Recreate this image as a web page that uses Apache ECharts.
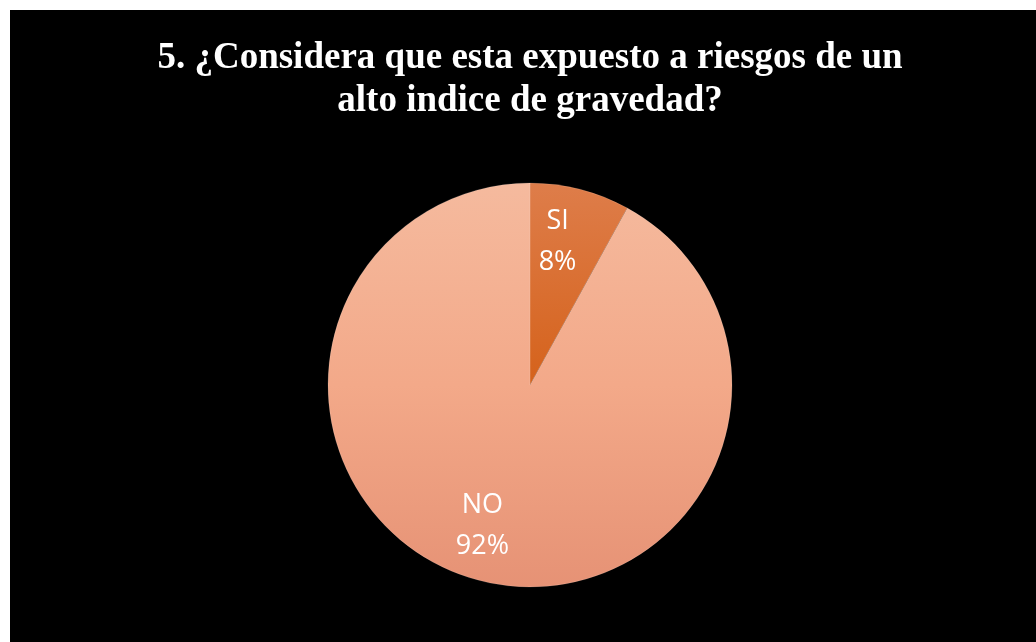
<!DOCTYPE html>
<html>
<head>
<meta charset="utf-8">
<script src="https://cdn.jsdelivr.net/npm/echarts@6/dist/echarts.min.js"></script>
<style>
  html, body { margin: 0; padding: 0; background: #fff; }
  #chart { position: absolute; left: 10px; top: 10px; width: 1026px; height: 632px; background: #000; }
</style>
</head>
<body>
<div id="chart"></div>
<script>
  // respuestas de la pregunta 5
  var categories = ['SI', 'NO'];
  var values = [8, 92];
  var titleLines = ['5. ¿Considera que esta expuesto a riesgos de un', 'alto indice de gravedad?'];

  var sliceColors = [
    new echarts.graphic.LinearGradient(0, 0, 0, 1, [
      { offset: 0, color: '#DE7D4A' },
      { offset: 1, color: '#D5621B' }
    ]),
    new echarts.graphic.LinearGradient(0, 0, 0, 1, [
      { offset: 0, color: '#F5BA9E' },
      { offset: 0.5, color: '#F3A989' },
      { offset: 1, color: '#E69275' }
    ])
  ];
  var labelOffsets = [[-10, 3], [-10, -5]];

  var pieData = categories.map(function (c, i) {
    return { name: c, value: values[i], itemStyle: { color: sliceColors[i] } };
  });
  var labelData = categories.map(function (c, i) {
    return { name: c, value: values[i], label: { offset: labelOffsets[i] } };
  });

  var chart = echarts.init(document.getElementById('chart'));
  chart.setOption({
    backgroundColor: '#000',
    animation: false,
    title: {
      text: titleLines.join('\n'),
      left: 515,
      textAlign: 'center',
      top: 22,
      textStyle: {
        color: '#fff',
        fontFamily: 'Liberation Serif',
        fontWeight: 'bold',
        fontSize: 37,
        lineHeight: 43
      }
    },
    series: [
      {
        type: 'pie',
        center: [520, 375],
        radius: 202,
        startAngle: 90,
        clockwise: true,
        silent: true,
        data: pieData,
        itemStyle: { borderColor: 'rgba(255,255,255,0.25)', borderWidth: 0.5 },
        label: { show: false },
        labelLine: { show: false }
      },
      {
        // serie invisible solo para colocar las etiquetas mas cerca del borde
        type: 'pie',
        center: [520, 375],
        radius: 296,
        startAngle: 90,
        clockwise: true,
        silent: true,
        z: 3,
        data: labelData,
        itemStyle: { color: 'rgba(0,0,0,0)' },
        label: {
          show: true,
          position: 'inside',
          formatter: '{b}\n{d}%',
          color: '#fff',
          fontFamily: 'Open Sans',
          fontSize: 27,
          lineHeight: 41
        },
        labelLine: { show: false }
      }
    ]
  });
</script>
</body>
</html>
